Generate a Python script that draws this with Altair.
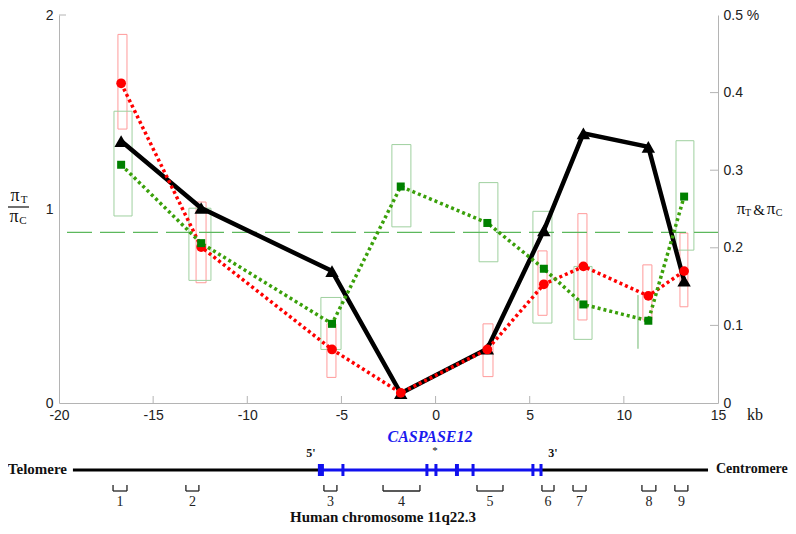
import altair as alt
import pandas as pd

# ---------------- data ----------------
pos_kb = [-16.7, -12.45, -5.5, -1.85, 2.75, 5.75, 7.85, 11.3, 13.2]
ratio = [1.35, 1.005, 0.68, 0.05, 0.28, 0.89, 1.39, 1.32, 0.63]          # pi_T / pi_C (left axis)

pi_t = [0.412, 0.201, 0.069, 0.013, 0.069, 0.153, 0.176, 0.138, 0.170]  # red (right axis, %)
pi_t_lo = [0.353, 0.155, 0.033, 0.013, 0.034, 0.113, 0.107, 0.107, 0.124]
pi_t_hi = [0.475, 0.259, 0.102, 0.013, 0.102, 0.196, 0.244, 0.178, 0.219]
red_x0 = [-16.87, -12.72, -5.77, -2.10, 2.52, 5.44, 7.56, 11.01, 12.98]
red_x1 = [-16.39, -12.19, -5.29, -1.60, 3.05, 5.92, 8.04, 11.49, 13.40]

pi_c = [0.307, 0.206, 0.102, 0.279, 0.232, 0.173, 0.127, 0.106, 0.266]  # green (right axis, %)
pi_c_lo = [0.241, 0.158, 0.069, 0.227, 0.182, 0.103, 0.082, 0.070, 0.197]
pi_c_hi = [0.376, 0.251, 0.136, 0.333, 0.284, 0.247, 0.176, 0.139, 0.338]
green_x0 = [-17.08, -13.10, -6.09, -2.32, 2.31, 5.17, 7.35, 10.75, 12.77]
green_x1 = [-16.12, -11.93, -5.02, -1.31, 3.31, 6.18, 8.31, 10.75, 13.72]

pi_level = [0.22]

x_ticks = [-20, -15, -10, -5, 0, 5, 10, 15]
left_ticks = [0, 1, 2]
right_ticks = [0, 0.1, 0.2, 0.3, 0.4, 0.5]

# gene diagram (kb)
seg_start = [-19.26, -6.09, 5.60]
seg_end = [-6.09, 5.60, 14.47]
seg_part = ["flank", "gene", "flank"]
exon_start = [-6.25, -5.00, -0.54, -0.06, 1.03, 1.91, 5.09, 5.52]
exon_end = [-5.93, -4.84, -0.38, 0.10, 1.24, 2.07, 5.25, 5.68]
region_start = [-17.13, -13.26, -5.93, -2.79, 2.20, 5.65, 7.30, 10.96, 12.71]
region_end = [-16.39, -12.57, -5.24, -0.83, 3.58, 6.29, 7.99, 11.70, 13.40]
region_label = ["1", "2", "3", "4", "5", "6", "7", "8", "9"]

# ---------------- layout ----------------
W, H = 659, 388
TOP = 7
D = 2  # shift of annotation y because of the larger top padding
SANS = "Liberation Sans"
SERIF = "Liberation Serif"
AXC = "#b4b4b4"

pts = pd.DataFrame({"pos": pos_kb, "ratio": ratio, "pi_t": pi_t, "pi_c": pi_c})
rbox = pd.DataFrame({"x0": red_x0, "x1": red_x1, "lo": pi_t_lo, "hi": pi_t_hi})
gbox = pd.DataFrame({"x0": green_x0, "x1": green_x1, "lo": pi_c_lo, "hi": pi_c_hi})
lvl = pd.DataFrame({"level": pi_level})
segs = pd.DataFrame({"s": seg_start, "e": seg_end, "part": seg_part})
exons = pd.DataFrame({"s": exon_start, "e": exon_end})
regs = pd.DataFrame({"s": region_start, "e": region_end, "label": region_label})
xt = pd.DataFrame({"v": [v for v in x_ticks if -20 < v < 15]})
rt = pd.DataFrame({"v": [v for v in right_ticks if 0 < v < 0.5]})
lt = pd.DataFrame({"v": [2]})

xsc = alt.Scale(domain=[-20, 15], nice=False, zero=False)
ysL = alt.Scale(domain=[0, 2], nice=False)
ysR = alt.Scale(domain=[0, 0.5], nice=False)

XAX = alt.Axis(values=x_ticks, labelExpr="'' + datum.value", ticks=False, grid=False,
               domainColor=AXC, labelFont=SANS, labelFontSize=14, labelColor="#222",
               labelPadding=5, labelFlush=False, title=None)
LAX = alt.Axis(values=left_ticks, labelExpr="'' + datum.value", ticks=False, grid=False,
               domainColor=AXC, labelFont=SANS, labelFontSize=14, labelColor="#222",
               labelPadding=6, title=None, orient="left")
RAX = alt.Axis(values=right_ticks,
               labelExpr="datum.value == 0 ? '0' : (datum.value > 0.45 ? format(datum.value, '.1f') + ' %' : format(datum.value, '.1f'))",
               ticks=False, grid=False, domainColor=AXC, labelFont=SANS, labelFontSize=14,
               labelColor="#222", labelPadding=5, title=None, orient="right")


def X(field):
    return alt.X(f"{field}:Q", scale=xsc, axis=XAX)


def X2(field):
    return alt.X2(f"{field}:Q")


def YR(field, axis=None):
    if axis is None:
        return alt.Y(f"{field}:Q", scale=ysR, axis=None)
    return alt.Y(f"{field}:Q", scale=ysR, axis=axis)


def text(t, x, y, size=14, font=SERIF, weight="normal", style="normal", color="#111", align="center"):
    return alt.Chart(pd.DataFrame({"t": [t]})).mark_text(
        font=font, fontSize=size, fontWeight=weight, fontStyle=style, color=color,
        align=align, baseline="middle").encode(text="t:N", x=alt.value(x), y=alt.value(y - D))


layers = []

# boxes
layers.append(alt.Chart(rbox).mark_rect(fillOpacity=0, stroke="#ff9a9a", strokeWidth=1).encode(
    x=X("x0"), x2=X2("x1"), y=YR("lo"), y2=alt.Y2("hi:Q")))
layers.append(alt.Chart(gbox).mark_rect(fillOpacity=0, stroke="#9fd09f", strokeWidth=1).encode(
    x=X("x0"), x2=X2("x1"), y=YR("lo"), y2=alt.Y2("hi:Q")))

# dashed reference level
layers.append(alt.Chart(lvl).mark_rule(color="#5cb85c", strokeWidth=1.2, strokeDash=[25, 8],
                                       strokeDashOffset=25).encode(
    y=YR("level"), x=alt.value(0), x2=alt.value(W)))

# ratio line (left axis)
layers.append(alt.Chart(pts).mark_line(color="black", strokeWidth=4.5).encode(
    x=X("pos"), y=alt.Y("ratio:Q", scale=ysL, axis=LAX)))
layers.append(alt.Chart(pts).mark_point(shape="triangle-up", filled=True, color="black",
                                        size=180, opacity=1).encode(
    x=X("pos"), y=alt.Y("ratio:Q", scale=ysL, axis=None)))

# pi_T red
layers.append(alt.Chart(pts).mark_line(color="#ff0000", strokeWidth=3.5, strokeDash=[3, 3]).encode(
    x=X("pos"), y=YR("pi_t", RAX)))
layers.append(alt.Chart(pts).mark_circle(color="#ff0000", size=95, opacity=1).encode(
    x=X("pos"), y=YR("pi_t")))

# pi_C green
layers.append(alt.Chart(pts).mark_line(color="#3aa00a", strokeWidth=3.5, strokeDash=[3, 3]).encode(
    x=X("pos"), y=YR("pi_c")))
layers.append(alt.Chart(pts).mark_square(color="#008000", size=64, opacity=1).encode(
    x=X("pos"), y=YR("pi_c")))

# inward ticks
layers.append(alt.Chart(xt).mark_rule(color=AXC, strokeWidth=1).encode(
    x=X("v"), y=alt.value(H), y2=alt.value(H - 7)))
layers.append(alt.Chart(rt).mark_rule(color=AXC, strokeWidth=1).encode(
    y=YR("v"), x=alt.value(W - 8), x2=alt.value(W)))
layers.append(alt.Chart(lt).mark_rule(color=AXC, strokeWidth=1).encode(
    y=alt.Y("v:Q", scale=ysL, axis=None), x=alt.value(0), x2=alt.value(7)))

# ---------------- gene diagram ----------------
layers.append(alt.Chart(segs).mark_rule(strokeWidth=3).encode(
    x=X("s"), x2=X2("e"), y=alt.value(457 - D),
    color=alt.Color("part:N", scale=alt.Scale(domain=["flank", "gene"], range=["#000000", "#1010ee"]),
                    legend=None)))
layers.append(alt.Chart(exons).mark_rect(color="#1010ee").encode(
    x=X("s"), x2=X2("e"), y=alt.value(451 - D), y2=alt.value(463 - D)))
layers.append(alt.Chart(regs).mark_rule(color="#222", strokeWidth=1.3).encode(
    x=X("s"), x2=X2("e"), y=alt.value(478 - D)))
layers.append(alt.Chart(regs).transform_fold(["s", "e"], as_=["k", "edge"]).mark_rule(
    color="#222", strokeWidth=1.3).encode(
    x=X("edge"), y=alt.value(472 - D), y2=alt.value(478 - D)))
layers.append(alt.Chart(regs).transform_calculate(mid="(datum.s + datum.e) / 2").mark_text(
    font=SERIF, fontSize=14, color="#222", baseline="middle").encode(
    x=X("mid"), y=alt.value(489 - D), text="label:N"))

# annotations
layers += [
    text("CASPASE12", 371, 424, size=16, weight="bold", style="italic", color="#1a1aee"),
    text("5'", 252, 440, size=12, weight="bold"),
    text("*", 376, 438, size=11),
    text("3'", 494, 440, size=12, weight="bold"),
    text("Telomere", 8, 456, size=15, weight="bold", align="right"),
    text("Centromere", 657, 456, size=14, weight="bold", align="left"),
    text("Human chromosome 11q22.3", 324, 504, size=15, weight="bold"),
    text("kb", 696, 402, size=16),
    # left title pi_T / pi_C
    text("π", -44, 183, size=18),
    text("T", -35, 187, size=11),
    text("π", -45, 204, size=18),
    text("C", -36, 208, size=11),
    # right title pi_T & pi_C
    text("π", 682, 196, size=17),
    text("T", 689, 200, size=10),
    text("&", 700, 197, size=15),
    text("π", 712, 196, size=17),
    text("C", 720, 200, size=10),
]
layers.append(alt.Chart(pd.DataFrame({"a": [0]})).mark_rule(color="#111", strokeWidth=1.2).encode(
    x=alt.value(-56), x2=alt.value(-30), y=alt.value(194 - D)))

chart = alt.layer(*layers).resolve_scale(y="independent").properties(
    width=W, height=H,
    autosize=alt.AutoSizeParams(type="none"),
    padding={"left": 51, "top": TOP, "right": 70, "bottom": 123},
    background="white",
).configure_view(strokeWidth=0)

chart.save("out.html", embed_options={"renderer": "svg", "actions": False})
